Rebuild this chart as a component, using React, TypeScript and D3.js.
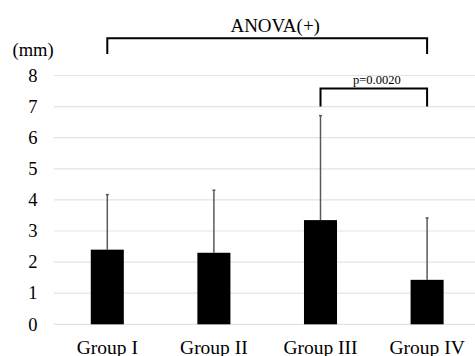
import * as d3 from "d3";
import { useEffect, useRef } from "react";

const groups = ["Group I", "Group II", "Group III", "Group IV"];
const means = [2.4, 2.3, 3.35, 1.43];
const sdUpper = [4.17, 4.31, 6.71, 3.42];
const yTicks = [0, 1, 2, 3, 4, 5, 6, 7, 8];

const App = () => {
  const ref = useRef<SVGSVGElement | null>(null);

  useEffect(() => {
    const width = 475;
    const height = 356;
    const svg = d3.select(ref.current);
    svg.selectAll("*").remove();

    const x = d3.scaleBand<string>()
      .domain(groups)
      .range([54, 480.4])
      .paddingInner(0.69)
      .paddingOuter(0.345);

    const y = d3.scaleLinear().domain([0, 8]).range([324.3, 75.5]);

    const cx = (g: string) => (x(g) as number) + x.bandwidth() / 2;
    const font = "Liberation Serif, Times New Roman, DejaVu Serif, serif";

    // gridlines
    svg.append("g")
      .selectAll("line")
      .data(yTicks)
      .enter().append("line")
      .attr("x1", 54)
      .attr("x2", width)
      .attr("y1", d => y(d))
      .attr("y2", d => y(d))
      .attr("stroke", "#e3e3e3")
      .attr("stroke-width", 1.2);

    // y labels
    svg.append("g")
      .selectAll("text")
      .data(yTicks)
      .enter().append("text")
      .attr("x", 37.5)
      .attr("y", d => y(d))
      .attr("dy", "0.34em")
      .attr("text-anchor", "end")
      .style("font-family", font)
      .attr("font-size", 18.5)
      .text(d => d);

    svg.append("text")
      .attr("x", 12.5)
      .attr("y", 56)
      .style("font-family", font)
      .attr("font-size", 18.5)
      .text("(mm)");

    // error bars
    const err = svg.append("g");
    err.selectAll("line.v")
      .data(groups)
      .enter().append("line")
      .attr("x1", d => cx(d))
      .attr("x2", d => cx(d))
      .attr("y1", (d, i) => y(means[i]))
      .attr("y2", (d, i) => y(sdUpper[i]))
      .attr("stroke", "#595959")
      .attr("stroke-width", 1.5);
    err.selectAll("line.c")
      .data(groups)
      .enter().append("line")
      .attr("x1", d => cx(d) - 1.5)
      .attr("x2", d => cx(d) + 1.5)
      .attr("y1", (d, i) => y(sdUpper[i]))
      .attr("y2", (d, i) => y(sdUpper[i]))
      .attr("stroke", "#595959")
      .attr("stroke-width", 1.5);

    // bars
    svg.append("g")
      .selectAll("rect")
      .data(groups)
      .enter().append("rect")
      .attr("x", d => x(d) as number)
      .attr("y", (d, i) => y(means[i]))
      .attr("width", x.bandwidth())
      .attr("height", (d, i) => y(0) - y(means[i]))
      .attr("fill", "#000");

    // x labels (clipped at the bottom edge, as in the original)
    svg.append("g")
      .selectAll("text")
      .data(groups)
      .enter().append("text")
      .attr("x", d => cx(d))
      .attr("y", 353.5)
      .attr("text-anchor", "middle")
      .style("font-family", font)
      .attr("font-size", 19.5)
      .text(d => d);

    // brackets
    const bracket = (a: string, b: string, top: number, bottom: number) => {
      const p = d3.path();
      p.moveTo(cx(a), y(bottom));
      p.lineTo(cx(a), y(top));
      p.lineTo(cx(b), y(top));
      p.lineTo(cx(b), y(bottom));
      svg.append("path")
        .attr("d", p.toString())
        .attr("fill", "none")
        .attr("stroke", "#000")
        .attr("stroke-width", 2);
    };
    bracket("Group I", "Group IV", 9.2, 8.69);
    bracket("Group III", "Group IV", 7.58, 7.0);

    svg.append("text")
      .attr("x", (cx("Group I") + cx("Group IV")) / 2 + 8)
      .attr("y", 32)
      .attr("text-anchor", "middle")
      .style("font-family", font)
      .attr("font-size", 19)
      .text("ANOVA(+)");

    svg.append("text")
      .attr("x", (cx("Group III") + cx("Group IV")) / 2 + 3)
      .attr("y", 84)
      .attr("text-anchor", "middle")
      .style("font-family", font)
      .attr("font-size", 12.5)
      .text("p=0.0020");

    svg.attr("width", width).attr("height", height);
  }, []);

  return (
    <svg ref={ref} style={{ position: "absolute", left: 0, top: 0, background: "#fff" }} />
  );
};

export default App;
